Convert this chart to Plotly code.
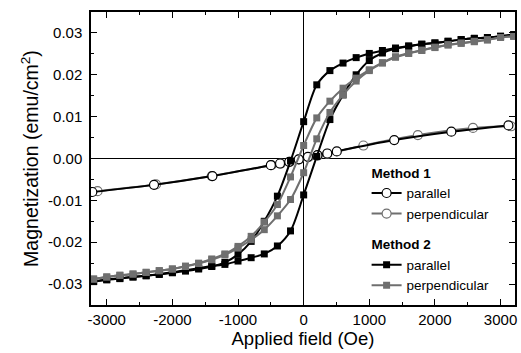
import plotly.graph_objects as go

# ---------------- data ----------------
# Method 2 (squares): hysteresis loops, descending branch (+H -> -H) and ascending branch (-H -> +H)
H_desc = [3200, 3000, 2800, 2600, 2400, 2200, 2000, 1800, 1600, 1400, 1200, 1000, 800, 600, 400, 200, 0,
          -200, -400, -600, -800, -1000, -1200, -1400, -1600, -1800, -2000, -2200, -2400, -2600, -2800, -3000, -3200]
H_asc = [-3200, -3000, -2800, -2600, -2400, -2200, -2000, -1800, -1600, -1400, -1200, -1000, -800, -600, -400, -200, 0,
         200, 400, 600, 800, 1000, 1200, 1400, 1600, 1800, 2000, 2200, 2400, 2600, 2800, 3000, 3200]

m2_par_desc = [0.0296, 0.0292, 0.0289, 0.0287, 0.0284, 0.0280, 0.0276, 0.0273, 0.0269, 0.0264, 0.0258, 0.0251,
               0.0241, 0.0228, 0.0210, 0.0176, 0.0088, -0.0006, -0.0090, -0.0150, -0.0198, -0.0229, -0.0248,
               -0.0258, -0.0264, -0.0269, -0.0273, -0.0277, -0.0280, -0.0283, -0.0287, -0.0290, -0.0294]
m2_par_asc = [-0.0294, -0.0289, -0.0286, -0.0283, -0.0280, -0.0276, -0.0272, -0.0267, -0.0262, -0.0257, -0.0253,
              -0.0245, -0.0237, -0.0228, -0.0209, -0.0173, -0.0087, 0.0005, 0.0093, 0.0152, 0.0200, 0.0234,
              0.0252, 0.0262, 0.0268, 0.0273, 0.0276, 0.0280, 0.0284, 0.0287, 0.0289, 0.0292, 0.0296]

m2_perp_desc = [0.0292, 0.0289, 0.0284, 0.0280, 0.0276, 0.0272, 0.0266, 0.0259, 0.0252, 0.0243, 0.0229, 0.0212,
                0.0192, 0.0168, 0.0137, 0.0097, 0.0031, -0.0044, -0.0110, -0.0152, -0.0186, -0.0210, -0.0228,
                -0.0240, -0.0250, -0.0257, -0.0264, -0.0268, -0.0272, -0.0276, -0.0279, -0.0283, -0.0288]
m2_perp_asc = [-0.0288, -0.0283, -0.0279, -0.0276, -0.0272, -0.0268, -0.0264, -0.0258, -0.0251, -0.0242, -0.0230,
               -0.0214, -0.0194, -0.0170, -0.0137, -0.0098, -0.0034, 0.0047, 0.0110, 0.0152, 0.0185, 0.0210,
               0.0228, 0.0242, 0.0251, 0.0258, 0.0265, 0.0271, 0.0275, 0.0279, 0.0283, 0.0289, 0.0292]

# Method 1 (circles)
m1_par_H = [-3220, -2280, -1390, -500, -360, -220, -75, 65, 210, 360, 505, 1380, 2250, 3120]
m1_par_M = [-0.0080, -0.0063, -0.0042, -0.0016, -0.0012, -0.0008, -0.0002, 0.0004, 0.0008, 0.0012, 0.0017,
            0.0044, 0.0064, 0.0079]
m1_perp_H = [-3140, -2250, -1400, -490, -350, -210, -70, 75, 215, 360, 910, 1740, 2580, 3160]
m1_perp_M = [-0.0078, -0.0062, -0.0042, -0.0016, -0.0012, -0.0008, -0.0002, 0.0003, 0.0007, 0.0011, 0.0031,
             0.0056, 0.0073, 0.0077]

BLACK = "#000000"
GREY = "#6f6f6f"
FONT = "Liberation Sans, Arial, sans-serif"

fig = go.Figure()

line_kw = dict(shape="spline", smoothing=0.8, width=2)

# Method 1
fig.add_trace(go.Scatter(x=m1_perp_H, y=m1_perp_M, mode="lines+markers", name="perpendicular",
                         legendgroup="m1", legendrank=2,
                         line=dict(color=GREY, **line_kw),
                         marker=dict(symbol="circle", size=9, color="white", line=dict(color=GREY, width=1.2))))
fig.add_trace(go.Scatter(x=m1_par_H, y=m1_par_M, mode="lines+markers", name="parallel",
                         legendgroup="m1", legendrank=1,
                         legendgrouptitle=dict(text="<b>Method 1</b>", font=dict(size=13.5, family=FONT, color="black")),
                         line=dict(color=BLACK, **line_kw),
                         marker=dict(symbol="circle", size=9, color="white", line=dict(color=BLACK, width=1.2))))

# Method 2
sq = dict(symbol="square", size=7)
fig.add_trace(go.Scatter(x=H_desc, y=m2_par_desc, mode="lines+markers", name="parallel",
                         legendgroup="m2", legendrank=3,
                         legendgrouptitle=dict(text="<b>Method 2</b>", font=dict(size=13.5, family=FONT, color="black")),
                         line=dict(color=BLACK, **line_kw), marker=dict(color=BLACK, **sq)))
fig.add_trace(go.Scatter(x=H_asc, y=m2_par_asc, mode="lines+markers", name="parallel",
                         legendgroup="m2", showlegend=False,
                         line=dict(color=BLACK, **line_kw), marker=dict(color=BLACK, **sq)))
fig.add_trace(go.Scatter(x=H_desc, y=m2_perp_desc, mode="lines+markers", name="perpendicular",
                         legendgroup="m2", legendrank=4,
                         line=dict(color=GREY, **line_kw), marker=dict(color=GREY, **sq)))
fig.add_trace(go.Scatter(x=H_asc, y=m2_perp_asc, mode="lines+markers", name="perpendicular",
                         legendgroup="m2", showlegend=False,
                         line=dict(color=GREY, **line_kw), marker=dict(color=GREY, **sq)))

axis_common = dict(
    showline=True, linecolor="black", linewidth=1.5, mirror="allticks",
    ticks="inside", ticklen=6, tickwidth=1.2, tickcolor="black",
    showgrid=False, zeroline=True, zerolinecolor="black", zerolinewidth=1.2,
    tickfont=dict(family=FONT, size=15, color="black"),
)

fig.update_layout(
    width=521, height=353,
    margin=dict(l=91, r=4, t=12, b=48),
    paper_bgcolor="white", plot_bgcolor="white",
    font=dict(family=FONT, color="black"),
    xaxis=dict(range=[-3240, 3220], tickmode="array",
               tickvals=[-3000, -2000, -1000, 0, 1000, 2000, 3000],
               ticktext=["-3000", "-2000", "-1000", "0", "1000", "2000", "3000"],
               minor=dict(dtick=500, ticks="inside", ticklen=3, tickcolor="black", showgrid=False),
               title=dict(text="Applied field (Oe)", font=dict(family=FONT, size=18.5), standoff=4),
               **axis_common),
    yaxis=dict(range=[-0.035, 0.035], tickmode="array",
               tickvals=[-0.03, -0.02, -0.01, 0.0, 0.01, 0.02, 0.03],
               ticktext=["-0.03", "-0.02", "-0.01", "0.00", "0.01", "0.02", "0.03"],
               minor=dict(dtick=0.005, ticks="inside", ticklen=3, tickcolor="black", showgrid=False),
               ticklabelstandoff=4,
               title=dict(text="Magnetization (emu/cm<sup>2</sup>)", font=dict(family=FONT, size=19.5), standoff=4),
               **axis_common),
    legend=dict(x=0.65, y=0.013, xanchor="left", yanchor="bottom", bgcolor="rgba(0,0,0,0)",
                font=dict(family=FONT, size=13.5, color="black"), tracegroupgap=10,
                itemwidth=30, traceorder="grouped"),
    showlegend=True,
)

fig.write_html("out.html")
